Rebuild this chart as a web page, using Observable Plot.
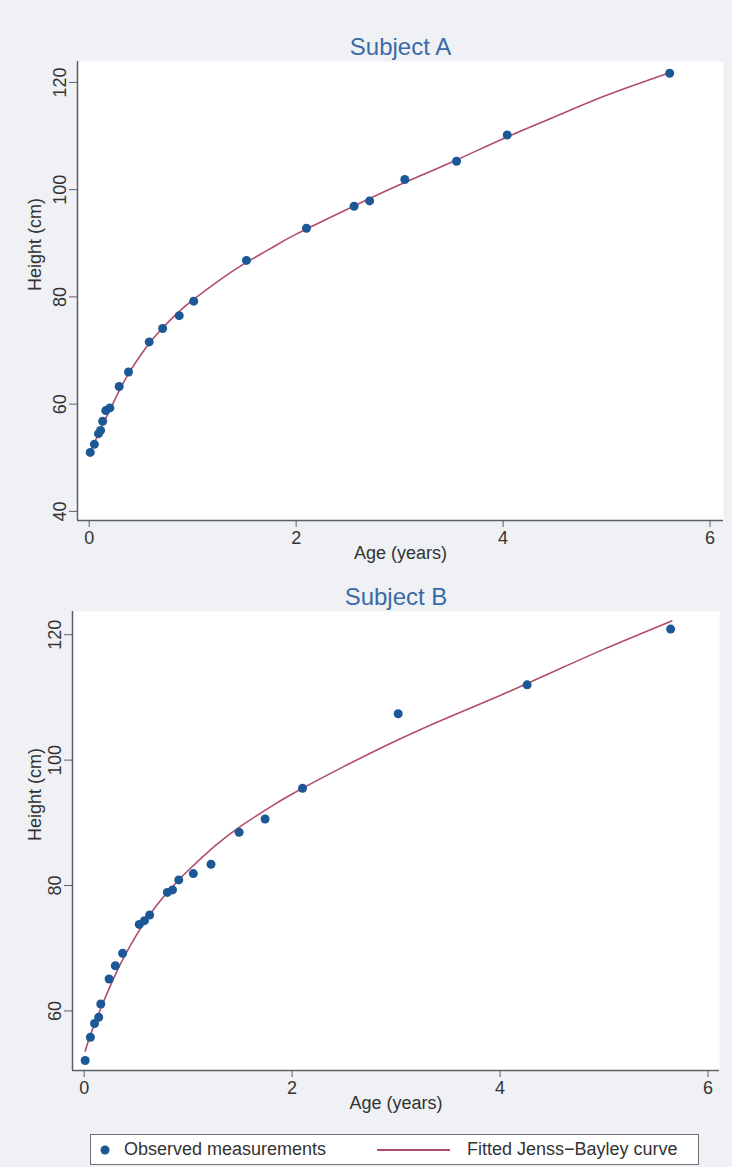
<!DOCTYPE html>
<html>
<head>
<meta charset="utf-8">
<script src="https://cdn.jsdelivr.net/npm/d3@7"></script>
<script src="https://cdn.jsdelivr.net/npm/@observablehq/plot@0.6"></script>
<style>
  html, body { margin: 0; padding: 0; background: #eff1f5; }
  #wrap { position: relative; width: 732px; height: 1167px; overflow: hidden; font-family: "Liberation Sans", Arial, sans-serif; }
  .panel { position: absolute; left: 0; }
  #legend { position: absolute; left: 90px; top: 1134px; width: 609px; height: 31px; background: #fff; border: 1px solid #6f7378; box-sizing: border-box; font-size: 18px; color: #333; }
  #legend .item { position: absolute; top: 0; height: 29px; line-height: 29px; white-space: nowrap; }
</style>
</head>
<body>
<div id="wrap">
  <div id="pA" class="panel" style="top:0px"></div>
  <div id="pB" class="panel" style="top:580px"></div>
  <div id="legend">
    <div class="item" style="left:8px"><svg width="14" height="29" style="vertical-align:top"><circle cx="6" cy="15" r="4.5" fill="#1c5896"></circle></svg></div>
    <div class="item" style="left:33px">Observed measurements</div>
    <div class="item" style="left:286px"><svg width="74" height="29" style="vertical-align:top"><line x1="0" x2="73" y1="15" y2="15" stroke="#b04c6c" stroke-width="2"></line></svg></div>
    <div class="item" style="left:376px">Fitted Jenss&#8722;Bayley curve</div>
  </div>
</div>
<script>
// ---- Subject A: observed measurements ----
const ageA    = [0.01, 0.05, 0.09, 0.11, 0.13, 0.16, 0.20, 0.29, 0.38, 0.58, 0.71, 0.87, 1.01, 1.52, 2.10, 2.56, 2.71, 3.05, 3.55, 4.04, 5.61];
const heightA = [51.0, 52.5, 54.5, 55.1, 56.8, 58.8, 59.3, 63.3, 66.0, 71.6, 74.1, 76.5, 79.2, 86.8, 92.8, 96.9, 97.9, 101.9, 105.3, 110.2, 121.7];
// ---- Subject A: fitted curve ----
const fitAgeA    = [0.00, 0.05, 0.10, 0.15, 0.20, 0.30, 0.40, 0.50, 0.60, 0.70, 0.80, 0.90, 1.00, 1.25, 1.50, 1.75, 2.00, 2.50, 3.00, 3.50, 4.00, 4.50, 5.00, 5.61];
const fitHeightA = [50.8, 52.8, 54.9, 57.0, 58.9, 62.9, 66.3, 69.2, 71.8, 74.0, 76.0, 77.8, 79.4, 83.0, 86.2, 89.0, 91.7, 96.4, 100.9, 105.1, 109.5, 113.6, 117.6, 121.8];

// ---- Subject B: observed measurements ----
const ageB    = [0.01, 0.06, 0.10, 0.14, 0.16, 0.24, 0.30, 0.37, 0.53, 0.58, 0.63, 0.80, 0.85, 0.91, 1.05, 1.22, 1.49, 1.74, 2.10, 3.02, 4.26, 5.64];
const heightB = [52.1, 55.8, 58.0, 59.0, 61.1, 65.1, 67.2, 69.2, 73.8, 74.4, 75.3, 78.9, 79.3, 80.9, 81.9, 83.4, 88.5, 90.6, 95.5, 107.4, 112.0, 120.9];
// ---- Subject B: fitted curve ----
const fitAgeB    = [0.01, 0.05, 0.10, 0.15, 0.20, 0.30, 0.40, 0.50, 0.60, 0.70, 0.80, 0.90, 1.00, 1.25, 1.50, 1.75, 2.00, 2.50, 3.00, 3.50, 4.00, 4.50, 5.00, 5.65];
const fitHeightB = [53.6, 55.7, 57.9, 60.0, 62.0, 65.8, 69.1, 72.0, 74.6, 76.9, 78.9, 80.7, 82.4, 86.2, 89.4, 92.1, 94.6, 99.0, 103.1, 106.8, 110.3, 114.0, 117.7, 122.2];

// ---- tick labels / titles ----
const xTicks = [0, 2, 4, 6];
const yTicksA = [40, 60, 80, 100, 120];
const yTicksB = [60, 80, 100, 120];
const titles = ["Subject A", "Subject B"];
const xLabel = "Age (years)";
const yLabel = "Height (cm)";

const DOT = "#1c5896", LINE = "#b04c6c", TITLE = "#3a6aa8", AXIS = "#5a5f66";

function panel({title, ages, heights, fitAges, fitHeights, xDomain, yDomain, yTicks, height, marginTop, marginLeft, marginRight}) {
  const obs = ages.map((a, i) => ({age: a, height: heights[i]}));
  const fit = fitAges.map((a, i) => ({age: a, height: fitHeights[i]}));
  return Plot.plot({
    width: 732,
    height,
    marginTop,
    marginBottom: 60,
    marginLeft,
    marginRight,
    style: {background: "transparent", fontFamily: "Liberation Sans, Arial, sans-serif", fontSize: "18px", color: "#333"},
    x: {domain: xDomain},
    y: {domain: yDomain},
    marks: [
      Plot.frame({fill: "white", stroke: null}),
      Plot.ruleX([xDomain[0]], {stroke: AXIS, strokeWidth: 1.5}),
      Plot.ruleY([yDomain[0]], {stroke: AXIS, strokeWidth: 1.5}),
      Plot.axisX({ticks: xTicks, tickFormat: d => String(d), tickSize: 7, tickPadding: 4, label: null, stroke: AXIS, fill: "#333", fontSize: 18}),
      Plot.axisY({ticks: yTicks, tickFormat: d => String(d), tickSize: 8, tickPadding: 4, tickRotate: -90, label: null, stroke: AXIS, fill: "#333", fontSize: 18}),
      Plot.line(fit, {x: "age", y: "height", stroke: LINE, strokeWidth: 1.6, curve: "natural"}),
      Plot.dot(obs, {x: "age", y: "height", r: 4.5, fill: DOT, stroke: null}),
      Plot.text([title], {text: d => d, frameAnchor: "top", dy: -24, fontSize: 24, fill: TITLE}),
      Plot.text([xLabel], {text: d => d, frameAnchor: "bottom", dy: 38, fontSize: 18, fill: "#333"}),
      Plot.text([yLabel], {text: d => d, frameAnchor: "left", dx: -(marginLeft - 35), rotate: -90, fontSize: 18, fill: "#333"})
    ]
  });
}

document.getElementById("pA").append(panel({
  title: titles[0], ages: ageA, heights: heightA, fitAges: fitAgeA, fitHeights: fitHeightA,
  xDomain: [-0.113, 6.13], yDomain: [38.3, 123.9], yTicks: yTicksA,
  height: 580, marginTop: 61, marginLeft: 77, marginRight: 9
}));
document.getElementById("pB").append(panel({
  title: titles[1], ages: ageB, heights: heightB, fitAges: fitAgeB, fitHeights: fitHeightB,
  xDomain: [-0.112, 6.11], yDomain: [50.5, 123.7], yTicks: yTicksB,
  height: 550, marginTop: 31, marginLeft: 72, marginRight: 13
}));
</script>
</body>
</html>
